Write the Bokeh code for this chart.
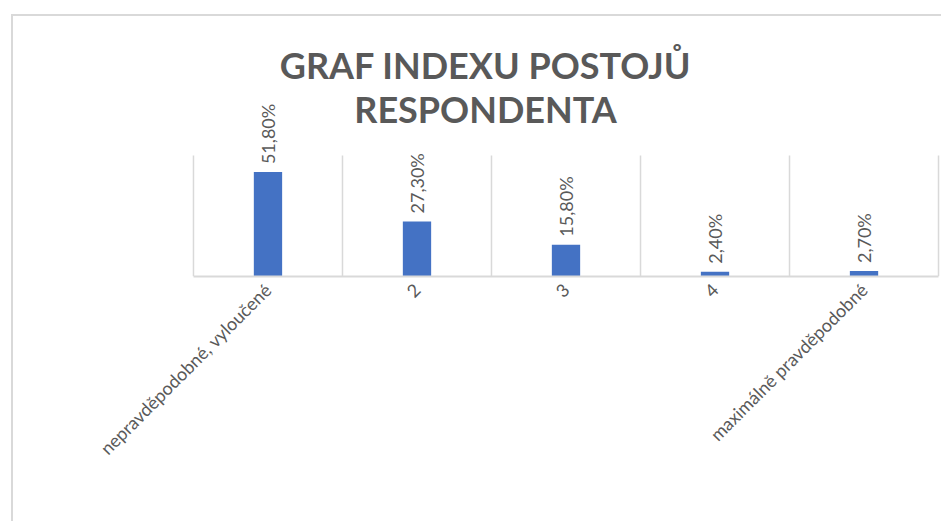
import math
from bokeh.plotting import figure
from bokeh.models import FixedTicker, Range1d, Label
from bokeh.core.properties import value
from bokeh.embed import file_html
from bokeh.resources import INLINE

# ---- data ----
categories = ["nepravděpodobné, vyloučené", "2", "3", "4", "maximálně pravděpodobné"]
values = [51.8, 27.3, 15.8, 2.4, 2.7]          # percent
value_labels = [f"{v:.2f}".replace(".", ",") + "%" for v in values]
title_lines = ["GRAF INDEXU POSTOJŮ", "RESPONDENTA"]
axis_max = 60                                    # top of the value axis (%)

positions = [i + 0.5 for i in range(len(categories))]
boundaries = list(range(len(categories) + 1))

GRAY = "#595959"
GRID = "#D9D9D9"
BLUE = "#4472C4"

p = figure(
    width=930, height=507,
    output_backend="svg", toolbar_location=None,
    x_range=Range1d(-0.02, len(categories) + 0.02),
    y_range=Range1d(0, 128),
    y_axis_location=None,
    min_border_left=177, min_border_right=2,
    min_border_top=2, min_border_bottom=247,
    outline_line_color=None,
    background_fill_color="white", border_fill_color="white",
    styles={"border-left": "2px solid #D9D9D9", "border-top": "2px solid #D9D9D9",
            "position": "relative", "left": "11px", "top": "14px"},
)

p.xgrid.visible = False
p.ygrid.visible = False

# category separators (value-axis gridlines of the original chart)
p.segment(x0=boundaries, y0=[0] * len(boundaries), x1=boundaries,
          y1=[axis_max] * len(boundaries), line_color=GRID, line_width=1.5)

# bars
p.vbar(x=positions, top=values, width=0.19, fill_color=BLUE, line_color=None)

# data labels
p.text(x=positions, y=values, text=value_labels, angle=math.pi / 2,
       text_align="left", text_baseline="middle", y_offset=-8,
       text_font=value("Lato"), text_font_size="18px", text_color=GRAY)

# x axis
ax = p.xaxis[0]
ax.ticker = FixedTicker(ticks=positions)
ax.major_label_overrides = dict(zip(positions, categories))
ax.major_label_orientation = math.pi / 4
ax.major_label_text_font = "Lato"
ax.major_label_text_font_size = "18px"
ax.major_label_text_color = GRAY
ax.major_label_standoff = 10
ax.major_tick_line_color = None
ax.minor_tick_line_color = None
ax.major_tick_in = 0
ax.major_tick_out = 0
ax.axis_line_color = GRID
ax.axis_line_width = 2
ax.bounds = (0, len(categories))

# title (two lines)
for txt, yb in zip(title_lines, [105.0, 83.0]):
    p.add_layout(Label(x=1.96, y=yb, text=txt, text_align="center",
                       text_baseline="alphabetic", text_font="Lato",
                       text_font_style="bold", text_font_size="36px",
                       text_color=GRAY))

open("out.html", "w").write(file_html(p, INLINE))
